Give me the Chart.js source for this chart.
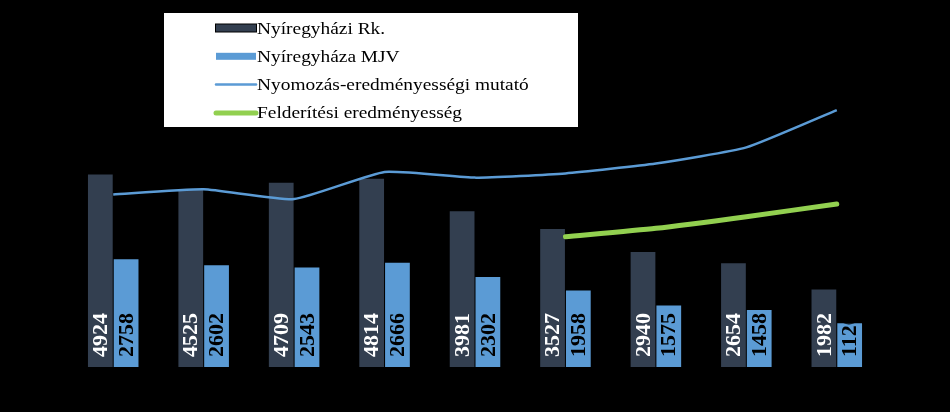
<!DOCTYPE html>
<html>
<head>
<meta charset="utf-8">
<script src="https://cdn.jsdelivr.net/npm/chart.js@4.4.0/dist/chart.umd.min.js"></script>
<style>
  body { margin: 0; background: #000; }
</style>
</head>
<body>
<canvas id="grafico" width="950" height="412"></canvas>
<script>
const categorias = ["1", "2", "3", "4", "5", "6", "7", "8", "9"];
const rendorkapitanysag = [4924, 4525, 4709, 4814, 3981, 3527, 2940, 2654, 1982];
const mjv = [2758, 2602, 2543, 2666, 2302, 1958, 1575, 1458, 1120];
const nyomozasMutato = [49.0, 50.5, 47.7, 55.4, 53.8, 55.0, 57.8, 62.4, 73.0];
const felderitesi = [null, null, null, null, null, 37.0, 39.4, 42.7, 46.3];

const nevek = ["Nyíregyházi Rk.", "Nyíregyháza MJV", "Nyomozás-eredményességi mutató", "Felderítési eredményesség"];

// feliratok az oszlopokban, függőlegesen, az oszlopra vágva
const oszlopFeliratok = {
  id: "oszlopFeliratok",
  afterDatasetDraw(chart, args) {
    const ds = chart.data.datasets[args.index];
    if (ds.type !== "bar") return;
    const ctx = chart.ctx;
    args.meta.data.forEach((bar, i) => {
      const p = bar.getProps(["x", "y", "base", "width"], true);
      ctx.save();
      ctx.beginPath();
      ctx.rect(p.x - p.width / 2, p.y, p.width, p.base - p.y);
      ctx.clip();
      ctx.translate(p.x, p.base - 10);
      ctx.rotate(-Math.PI / 2);
      ctx.font = "bold 22px 'Liberation Serif', serif";
      ctx.fillStyle = ds.feliratSzin;
      ctx.textAlign = "left";
      ctx.textBaseline = "middle";
      ctx.fillText(String(ds.data[i]), 0, 1);
      ctx.restore();
    });
  }
};

// jelmagyarázat fehér dobozban, a vásznon
const legendaDoboz = {
  id: "legendaDoboz",
  afterDraw(chart) {
    const ctx = chart.ctx;
    ctx.save();
    ctx.fillStyle = "#ffffff";
    ctx.fillRect(164, 13, 414, 114);
    ctx.font = "17px 'Liberation Serif', serif";
    ctx.textBaseline = "alphabetic";
    ctx.textAlign = "left";
    chart.data.datasets.forEach((ds, n) => {
      const y = 28 + n * 28.3;
      if (ds.type === "bar") {
        if (n === 0) {
          ctx.fillStyle = "#000";
          ctx.fillRect(215, y - 4.5, 42, 9);
        }
        ctx.fillStyle = ds.backgroundColor;
        ctx.fillRect(216, y - 3.5, 40, 7);
      } else {
        ctx.strokeStyle = ds.borderColor;
        ctx.lineWidth = ds.borderWidth;
        ctx.lineCap = "round";
        ctx.beginPath();
        ctx.moveTo(216, y);
        ctx.lineTo(256, y);
        ctx.stroke();
      }
      ctx.save();
      ctx.translate(257, y + 5.5);
      ctx.scale(1.14, 1);
      ctx.fillStyle = "#000";
      ctx.fillText(ds.label, 0, 0);
      ctx.restore();
    });
    ctx.restore();
  }
};

const grafico = new Chart(document.getElementById("grafico").getContext("2d"), {
  type: "bar",
  data: {
    labels: categorias,
    datasets: [
      {
        type: "bar",
        label: nevek[0],
        data: rendorkapitanysag,
        backgroundColor: "#333f50",
        feliratSzin: "#ffffff",
        yAxisID: "y",
        order: 1,
        barPercentage: 0.96,
        categoryPercentage: 0.57
      },
      {
        type: "bar",
        label: nevek[1],
        data: mjv,
        backgroundColor: "#5b9bd5",
        feliratSzin: "#000000",
        yAxisID: "y",
        order: 1,
        barPercentage: 0.96,
        categoryPercentage: 0.57
      },
      {
        type: "line",
        label: nevek[2],
        data: nyomozasMutato,
        borderColor: "#5b9bd5",
        borderWidth: 2.5,
        pointRadius: 0,
        tension: 0.15,
        yAxisID: "y1",
        order: 0
      },
      {
        type: "line",
        label: nevek[3],
        data: felderitesi,
        borderColor: "#92d050",
        borderWidth: 5,
        borderCapStyle: "round",
        pointRadius: 0,
        tension: 0.2,
        yAxisID: "y1",
        order: 0
      }
    ]
  },
  options: {
    responsive: false,
    animation: false,
    layout: { padding: { top: 15, bottom: 45, left: 68, right: 68 } },
    scales: {
      x: { display: false },
      y: { display: false, min: 0, max: 9000 },
      y1: { display: false, min: 0, max: 100, position: "right" }
    },
    plugins: {
      legend: { display: false },
      tooltip: { enabled: false }
    }
  },
  plugins: [oszlopFeliratok, legendaDoboz]
});
</script>
</body>
</html>
